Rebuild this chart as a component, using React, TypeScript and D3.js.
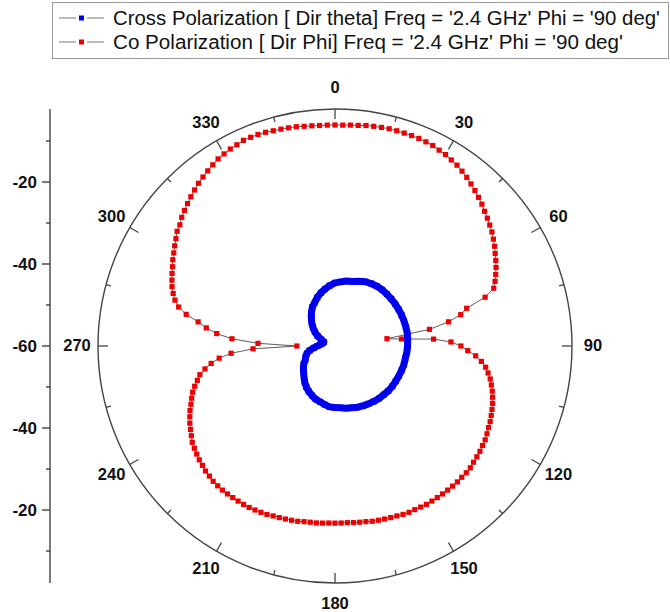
import React from "react";
import * as d3 from "d3";

const redAngles = d3.range(0, 360, 2);
const redDb = [
  -6.1, -6.1, -6.0, -5.9, -5.7, -5.6, -5.5, -5.4, -5.4, -5.4, -5.4, -5.4, -5.5, -5.6, -5.9, -6.1,
  -6.5, -6.8, -7.3, -7.8, -8.4, -9.0, -9.6, -10.2, -10.9, -11.5, -12.1, -12.7, -13.4, -14.1, -14.9,
  -15.6, -16.3, -17.1, -17.9, -18.8, -21.5, -26.6, -28.4, -31.7, -36.6, -47.2, -43.7, -35.9, -31.7,
  -29.3, -27.6, -25.6, -24.1, -22.9, -22.1, -21.3, -20.7, -20.1, -19.6, -19.1, -18.7, -18.3, -17.9,
  -17.6, -17.2, -16.8, -16.6, -16.3, -16.1, -15.9, -15.6, -15.5, -15.5, -15.4, -15.4, -15.4, -15.4,
  -15.4, -15.4, -15.4, -15.5, -15.6, -15.6, -15.7, -15.9, -16.0, -16.1, -16.2, -16.3, -16.5, -16.6,
  -16.7, -16.8, -16.8, -16.8,
  -16.8, -16.7, -16.6, -16.6, -16.5, -16.3, -16.2, -16.1, -16.0, -15.9, -15.7, -15.6, -15.5, -15.4,
  -15.4, -15.4, -15.4, -15.4, -15.4, -15.5, -15.6, -15.9, -16.1, -16.5, -16.8, -17.2, -17.6, -18.0,
  -18.7, -19.3, -19.9, -20.6, -21.3, -22.1, -22.8, -23.5, -24.4, -25.4, -26.3, -27.8, -29.5, -31.6,
  -34.6, -40.0, -50.7, -41.2, -34.8, -31.0, -28.3, -26.1, -22.9, -20.7, -19.4, -18.5, -17.7, -17.1,
  -16.5, -15.9, -15.2, -14.6, -13.9, -13.2, -12.4, -12.0, -11.2, -10.6, -10.0, -9.4, -8.8, -8.2,
  -7.7, -7.2, -6.7, -6.2, -5.9, -5.6, -5.4, -5.1, -5.1, -5.1, -5.2, -5.4, -5.5, -5.6, -5.7, -5.9,
  -6.0, -6.1, -6.1,
];

const blueAngles = d3.range(0, 360, 5);
const blueDb = [
  -44.6, -44.3, -43.9, -43.7, -43.2, -42.7, -42.4, -42.2, -42.1, -42.1, -42.1, -42.1, -42.1, -42.1,
  -42.1, -42.1, -42.1, -42.2, -42.3, -42.4, -42.6, -42.6, -42.7, -42.8, -42.9, -42.9, -43.0, -43.2,
  -43.3, -43.5, -43.7, -43.9, -44.1, -44.4, -44.6, -44.9, -45.0, -45.1, -45.5, -45.9, -46.2, -46.7,
  -47.2, -47.8, -48.5, -49.3, -50.0, -50.6, -51.2, -52.0, -52.4, -52.9, -53.7, -54.8, -55.7, -56.3,
  -56.7, -57.0, -57.1, -56.3, -55.1, -54.0, -53.0, -52.0, -51.0, -50.0, -49.0, -48.3, -47.4, -46.6,
  -45.9, -45.2,
];

const angleTickLabels = ["0", "30", "60", "90", "120", "150", "180", "210", "240", "270", "300", "330"];
const radialTickValues = [-20, -40, -60];
const radialMinorValues = [-10, -30, -50];
const legendLabels = [
  "Cross Polarization [ Dir theta] Freq = '2.4 GHz' Phi = '90 deg'",
  "Co Polarization [ Dir Phi] Freq = '2.4 GHz' Phi = '90 deg'",
];

const W = 670;
const H = 612;
const cx = 335;
const cy = 346;
const R = 237;
const FONT = "'Liberation Sans', Arial, sans-serif";

export default function App() {
  const r = d3.scaleLinear().domain([-60, -2.2]).range([0, R]).clamp(true);
  const a = d3.scaleLinear().domain([0, 360]).range([0, 2 * Math.PI]);

  const redPts = redAngles.map((ang, i) => ({ ang, v: redDb[i] }));
  const bluePts = blueAngles.map((ang, i) => ({ ang, v: blueDb[i] }));

  const line = d3
    .lineRadial<{ ang: number; v: number }>()
    .angle((d) => a(d.ang))
    .radius((d) => r(d.v))
    .curve(d3.curveLinearClosed);

  const pos = (d: { ang: number; v: number }) => d3.pointRadial(a(d.ang), r(d.v));

  const majorAngles = d3.range(0, 360, 30);
  const minorAngles = d3.range(15, 360, 30);

  const yTop = (v: number) => cy - r(v);
  const yBot = (v: number) => cy + r(v);

  return (
    <svg width={W} height={H} style={{ position: "absolute", left: 0, top: 0, background: "#fff" }}>
      {/* legend */}
      <rect x={52.5} y={2.5} width={616} height={56} fill="#fff" stroke="#9a9a9a" strokeWidth={1} />
      {legendLabels.map((t, i) => {
        const y = 18 + i * 24;
        const col = i === 0 ? "#0000ee" : "#ee0000";
        return (
          <g key={i}>
            <line x1={59} x2={76} y1={y} y2={y} stroke="#777" strokeWidth={1} />
            <line x1={87} x2={104} y1={y} y2={y} stroke="#777" strokeWidth={1} />
            <rect x={79} y={y - 2.5} width={5} height={5} fill={col} />
            <text
              x={113}
              y={y}
              dy="0.36em"
              fontFamily={FONT}
              fontSize={19.5}
              fill="#111"
              textLength={i === 0 ? 547 : 510}
              lengthAdjust="spacingAndGlyphs"
            >
              {t}
            </text>
          </g>
        );
      })}

      {/* left radial axis */}
      <line x1={50} x2={50} y1={yTop(-2.2)} y2={yBot(-2.2)} stroke="#333" strokeWidth={1.3} />
      {radialTickValues.map((v) =>
        (v === -60 ? [yTop(v)] : [yTop(v), yBot(v)]).map((y, j) => (
          <g key={`${v}-${j}`}>
            <line x1={42} x2={50} y1={y} y2={y} stroke="#333" strokeWidth={1.3} />
            <text x={37} y={y} dy="0.36em" textAnchor="end" fontFamily={FONT} fontWeight="bold" fontSize={17} fill="#111">
              {v}
            </text>
          </g>
        ))
      )}
      {radialMinorValues.map((v) =>
        [yTop(v), yBot(v)].map((y, j) => (
          <line key={`m${v}-${j}`} x1={46} x2={50} y1={y} y2={y} stroke="#333" strokeWidth={1.3} />
        ))
      )}

      <g transform={`translate(${cx},${cy})`}>
        <circle r={R} fill="none" stroke="#444" strokeWidth={1.4} />
        {majorAngles.map((ang) => {
          const [x1, y1] = d3.pointRadial(a(ang), R);
          const [x2, y2] = d3.pointRadial(a(ang), R - 10);
          return <line key={`t${ang}`} x1={x1} y1={y1} x2={x2} y2={y2} stroke="#444" strokeWidth={1.3} />;
        })}
        {minorAngles.map((ang) => {
          const [x1, y1] = d3.pointRadial(a(ang), R);
          const [x2, y2] = d3.pointRadial(a(ang), R - 5);
          return <line key={`n${ang}`} x1={x1} y1={y1} x2={x2} y2={y2} stroke="#444" strokeWidth={1.3} />;
        })}
        {majorAngles.map((ang, i) => {
          const [x, y] = d3.pointRadial(a(ang), R + 21);
          return (
            <text key={`l${ang}`} x={x} y={y - 1} dy="0.36em" textAnchor="middle" fontFamily={FONT} fontWeight="bold" fontSize={16.5} fill="#111">
              {angleTickLabels[i]}
            </text>
          );
        })}

        {/* co polarization */}
        <path d={line(redPts) || ""} fill="none" stroke="#333" strokeWidth={0.8} />
        {redPts.map((d, i) => {
          const [x, y] = pos(d);
          return <rect key={`r${i}`} x={x - 2.6} y={y - 2.6} width={5.2} height={5.2} fill="#ee0000" />;
        })}

        {/* cross polarization */}
        <path d={line(bluePts) || ""} fill="none" stroke="#0000ee" strokeWidth={7} strokeLinejoin="round" />
        {bluePts.map((d, i) => {
          const [x, y] = pos(d);
          return <rect key={`b${i}`} x={x - 3} y={y - 3} width={6} height={6} fill="#0000ee" />;
        })}
      </g>
    </svg>
  );
}
